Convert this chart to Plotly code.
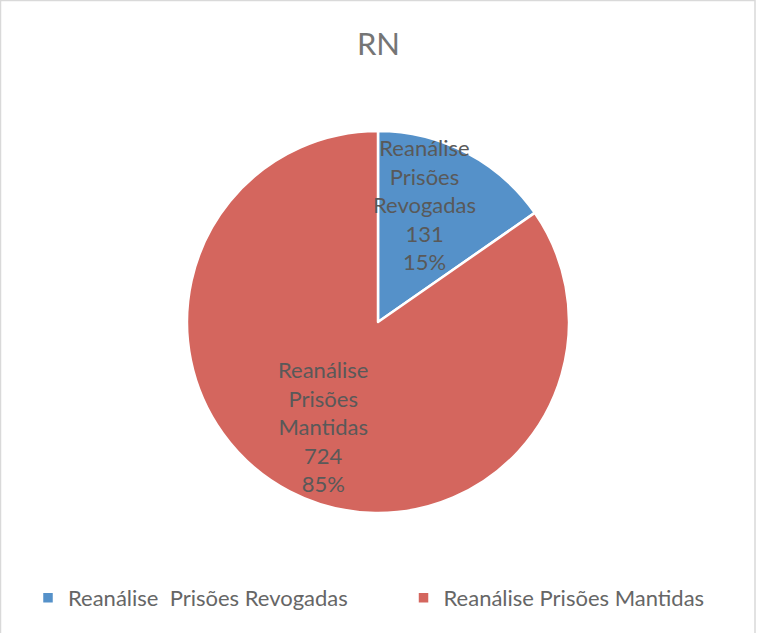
import math
import plotly.graph_objects as go

labels = ["Reanálise\u00a0 Prisões Revogadas" + "\u00a0" * 9, "Reanálise Prisões Mantidas"]
slice_text = ["Reanálise<br>Prisões<br>Revogadas", "Reanálise<br>Prisões<br>Mantidas"]
values = [131, 724]
colors = ["#5591C9", "#D4665E"]
title = "RN"

W, H = 757, 633
dom_x = [187 / W, 569 / W]
dom_y = [120 / H, 502 / H]

fig = go.Figure(go.Pie(
    labels=labels,
    values=values,
    sort=False,
    direction="clockwise",
    rotation=0,
    marker=dict(colors=colors, line=dict(color="white", width=2.5)),
    textinfo="none",
    hoverinfo="value+percent",
    domain=dict(x=dom_x, y=dom_y),
))

# data labels placed near each slice's bisector (like Excel "best fit")
label_radius = [0.66, 0.62]
label_angle_shift_deg = [-6, 0]
total = sum(values)
cx_px = (dom_x[0] + dom_x[1]) / 2 * W
cy_px = (dom_y[0] + dom_y[1]) / 2 * H
R_px = (dom_x[1] - dom_x[0]) * W / 2
annotations = []
cum = 0
for txt, v, lr, sh in zip(slice_text, values, label_radius, label_angle_shift_deg):
    mid = (cum + v / 2) / total * 2 * math.pi + math.radians(sh)
    cum += v
    px = cx_px + lr * R_px * math.sin(mid)
    py = cy_px + lr * R_px * math.cos(mid)
    pct = round(v / total * 100)
    annotations.append(dict(
        x=px / W, y=py / H, xref="paper", yref="paper", showarrow=False,
        xanchor="center", yanchor="middle",
        text=f"{txt}<br>{v}<br>{pct}%", align="center",
        font=dict(family="Lato", size=22, color="#595959"),
    ))

fig.update_layout(
    width=W, height=H,
    margin=dict(l=0, r=0, t=0, b=0),
    paper_bgcolor="white",
    plot_bgcolor="white",
    font=dict(family="Lato", color="#666666"),
    title=dict(text=title, x=0.5, xanchor="center", y=(H - 44) / H, yanchor="middle",
               font=dict(family="Lato", size=31, color="#757575")),
    legend=dict(orientation="h", x=28 / W, xanchor="left", y=35 / H, yanchor="middle",
                font=dict(family="Lato", size=22, color="#666666"),
                traceorder="normal"),
    annotations=annotations,
    shapes=[dict(type="rect", xref="paper", yref="paper", x0=0.5 / W, x1=755 / W,
                 y0=-0.2, y1=1 - 0.5 / H, line=dict(color="#D9D9D9", width=1.5),
                 fillcolor="rgba(0,0,0,0)", layer="above")],
)

fig.write_html("out.html", config={"displayModeBar": False},
               post_script="document.body.style.margin='0';document.body.style.overflow='hidden';")
